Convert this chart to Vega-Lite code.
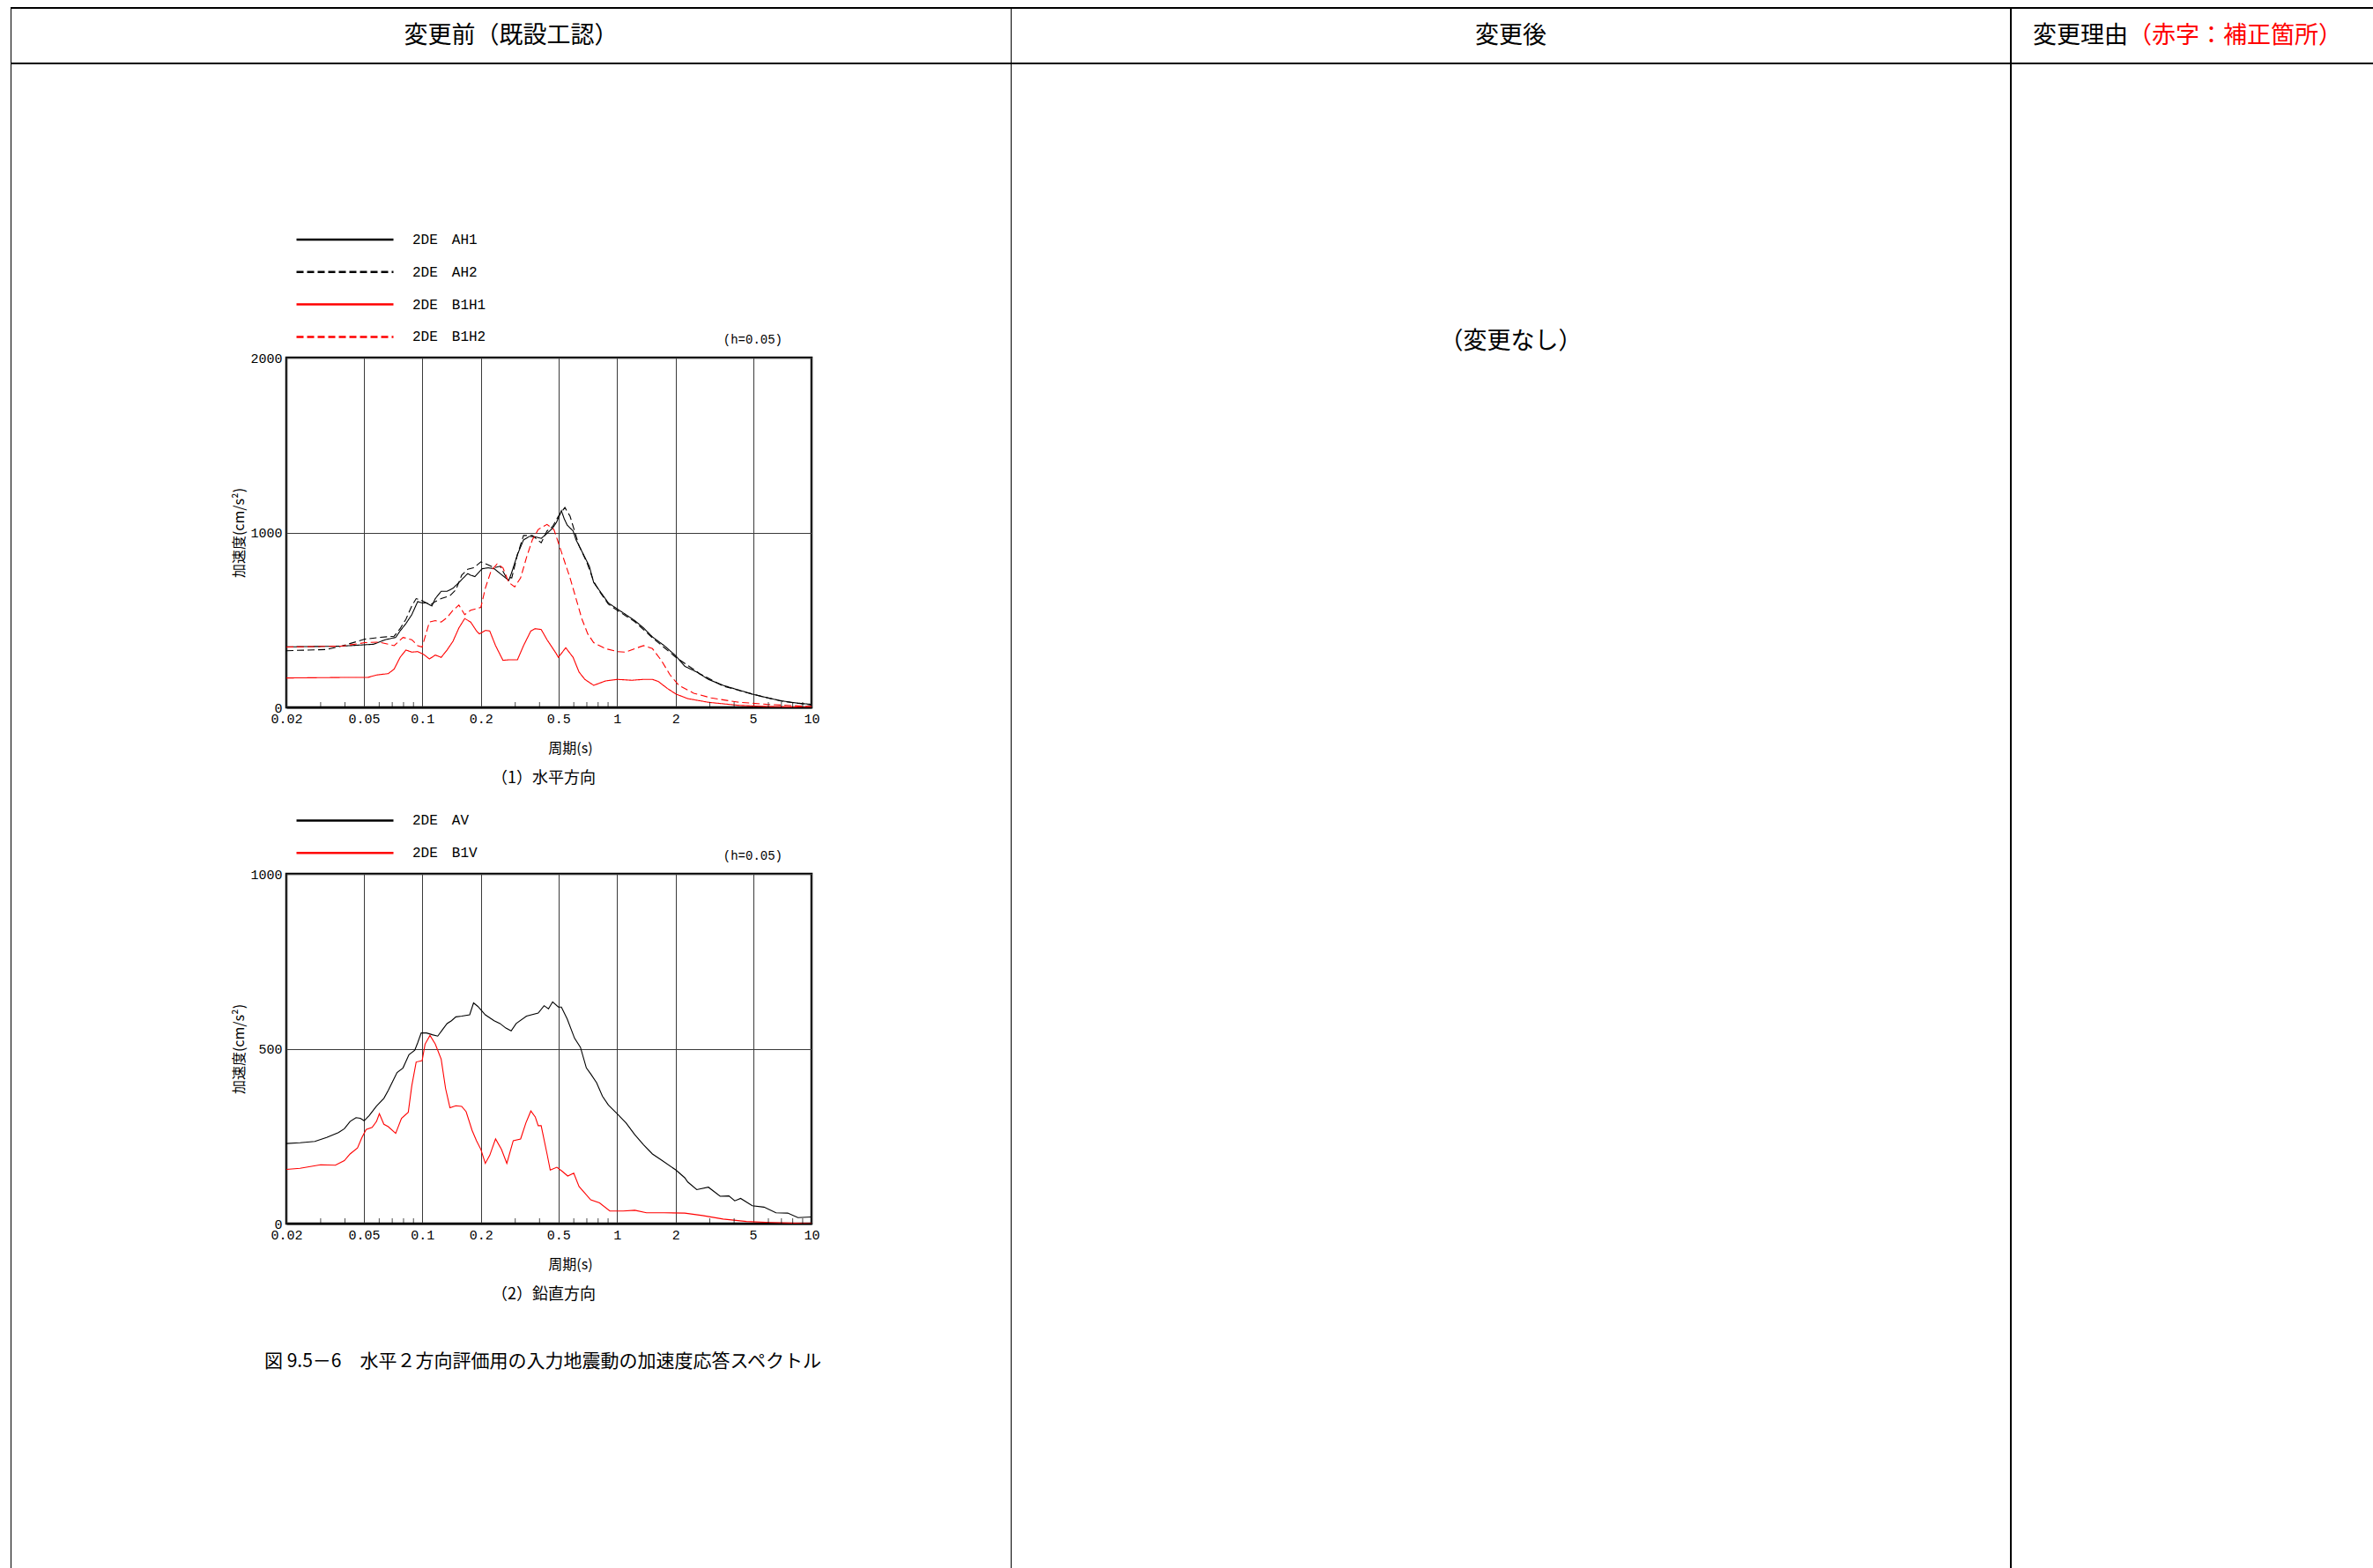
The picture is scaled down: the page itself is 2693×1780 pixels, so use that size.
{
  "$schema": "https://vega.github.io/schema/vega-lite/v6.json",
  "padding": {"left": 12, "top": 8, "right": 0, "bottom": 0},
  "background": "white",
  "config": {
    "view": {"stroke": null},
    "concat": {"spacing": 0},
    "font": "Noto Sans CJK JP",
    "title": {"fontWeight": "normal", "color": "black", "font": "Noto Sans CJK JP"},
    "axis": {"titleFontWeight": "normal", "titleFont": "Noto Sans CJK JP"},
    "text": {"color": "black"}
  },
  "resolve": {"scale": {"color": "independent", "strokeDash": "independent"}, "legend": {"color": "independent", "strokeDash": "independent"}},
  "datasets": {
    "horizontal": [
      {"series":"2DE　AH1","period":0.02,"accel":346},{"series":"2DE　AH1","period":0.0383,"accel":350},{"series":"2DE　AH1","period":0.0561,"accel":361},{"series":"2DE　AH1","period":0.0645,"accel":387},{"series":"2DE　AH1","period":0.0729,"accel":400},{"series":"2DE　AH1","period":0.0768,"accel":437},{"series":"2DE　AH1","period":0.0823,"accel":479},{"series":"2DE　AH1","period":0.0882,"accel":530},{"series":"2DE　AH1","period":0.0946,"accel":605},{"series":"2DE　AH1","period":0.0997,"accel":597},{"series":"2DE　AH1","period":0.105,"accel":597},{"series":"2DE　AH1","period":0.1118,"accel":580},{"series":"2DE　AH1","period":0.1165,"accel":622},{"series":"2DE　AH1","period":0.1249,"accel":664},{"series":"2DE　AH1","period":0.134,"accel":664},{"series":"2DE　AH1","period":0.1436,"accel":681},{"series":"2DE　AH1","period":0.154,"accel":714},{"series":"2DE　AH1","period":0.165,"accel":748},{"series":"2DE　AH1","period":0.171,"accel":765},{"series":"2DE　AH1","period":0.177,"accel":756},{"series":"2DE　AH1","period":0.186,"accel":748},{"series":"2DE　AH1","period":0.203,"accel":793},{"series":"2DE　AH1","period":0.218,"accel":798},{"series":"2DE　AH1","period":0.234,"accel":793},{"series":"2DE　AH1","period":0.251,"accel":765},{"series":"2DE　AH1","period":0.278,"accel":726},{"series":"2DE　AH1","period":0.288,"accel":773},{"series":"2DE　AH1","period":0.308,"accel":874},{"series":"2DE　AH1","period":0.331,"accel":958},{"series":"2DE　AH1","period":0.355,"accel":978},{"series":"2DE　AH1","period":0.38,"accel":975},{"series":"2DE　AH1","period":0.408,"accel":966},{"series":"2DE　AH1","period":0.437,"accel":995},{"series":"2DE　AH1","period":0.467,"accel":1025},{"series":"2DE　AH1","period":0.49,"accel":1060},{"series":"2DE　AH1","period":0.518,"accel":1125},{"series":"2DE　AH1","period":0.535,"accel":1080},{"series":"2DE　AH1","period":0.555,"accel":1042},{"series":"2DE　AH1","period":0.595,"accel":1009},{"series":"2DE　AH1","period":0.616,"accel":958},{"series":"2DE　AH1","period":0.661,"accel":891},{"series":"2DE　AH1","period":0.721,"accel":807},{"series":"2DE　AH1","period":0.759,"accel":714},{"series":"2DE　AH1","period":0.828,"accel":656},{"series":"2DE　AH1","period":0.903,"accel":597},{"series":"2DE　AH1","period":1.003,"accel":563},{"series":"2DE　AH1","period":1.112,"accel":530},{"series":"2DE　AH1","period":1.235,"accel":496},{"series":"2DE　AH1","period":1.37,"accel":454},{"series":"2DE　AH1","period":1.521,"accel":403},{"series":"2DE　AH1","period":1.749,"accel":353},{"series":"2DE　AH1","period":2.01,"accel":294},{"series":"2DE　AH1","period":2.23,"accel":235},{"series":"2DE　AH1","period":2.57,"accel":202},{"series":"2DE　AH1","period":2.95,"accel":160},{"series":"2DE　AH1","period":3.51,"accel":126},{"series":"2DE　AH1","period":4.17,"accel":101},{"series":"2DE　AH1","period":4.96,"accel":76},{"series":"2DE　AH1","period":5.9,"accel":55},{"series":"2DE　AH1","period":7.03,"accel":37},{"series":"2DE　AH1","period":8.36,"accel":25},{"series":"2DE　AH1","period":10,"accel":17},
      {"series":"2DE　AH2","period":0.02,"accel":324},{"series":"2DE　AH2","period":0.0322,"accel":331},{"series":"2DE　AH2","period":0.0383,"accel":350},{"series":"2DE　AH2","period":0.0506,"accel":390},{"series":"2DE　AH2","period":0.0601,"accel":400},{"series":"2DE　AH2","period":0.0716,"accel":407},{"series":"2DE　AH2","period":0.0768,"accel":450},{"series":"2DE　AH2","period":0.0823,"accel":504},{"series":"2DE　AH2","period":0.0882,"accel":580},{"series":"2DE　AH2","period":0.0929,"accel":622},{"series":"2DE　AH2","period":0.0979,"accel":614},{"series":"2DE　AH2","period":0.105,"accel":597},{"series":"2DE　AH2","period":0.1106,"accel":588},{"series":"2DE　AH2","period":0.1165,"accel":605},{"series":"2DE　AH2","period":0.1249,"accel":622},{"series":"2DE　AH2","period":0.1386,"accel":639},{"series":"2DE　AH2","period":0.1486,"accel":672},{"series":"2DE　AH2","period":0.1592,"accel":756},{"series":"2DE　AH2","period":0.171,"accel":790},{"series":"2DE　AH2","period":0.1832,"accel":798},{"series":"2DE　AH2","period":0.1998,"accel":832},{"series":"2DE　AH2","period":0.218,"accel":815},{"series":"2DE　AH2","period":0.234,"accel":798},{"series":"2DE　AH2","period":0.251,"accel":807},{"series":"2DE　AH2","period":0.2685,"accel":748},{"series":"2DE　AH2","period":0.288,"accel":740},{"series":"2DE　AH2","period":0.308,"accel":874},{"series":"2DE　AH2","period":0.331,"accel":983},{"series":"2DE　AH2","period":0.3674,"accel":983},{"series":"2DE　AH2","period":0.408,"accel":941},{"series":"2DE　AH2","period":0.437,"accel":1009},{"series":"2DE　AH2","period":0.467,"accel":1034},{"series":"2DE　AH2","period":0.5,"accel":1093},{"series":"2DE　AH2","period":0.54,"accel":1143},{"series":"2DE　AH2","period":0.574,"accel":1093},{"series":"2DE　AH2","period":0.605,"accel":1009},{"series":"2DE　AH2","period":0.638,"accel":925},{"series":"2DE　AH2","period":0.7,"accel":830},{"series":"2DE　AH2","period":0.759,"accel":720},{"series":"2DE　AH2","period":0.828,"accel":650},{"series":"2DE　AH2","period":0.903,"accel":590},{"series":"2DE　AH2","period":1.003,"accel":555},{"series":"2DE　AH2","period":1.235,"accel":490},{"series":"2DE　AH2","period":1.521,"accel":398},{"series":"2DE　AH2","period":2.01,"accel":286},{"series":"2DE　AH2","period":2.66,"accel":193},{"series":"2DE　AH2","period":3.51,"accel":122},{"series":"2DE　AH2","period":4.96,"accel":76},{"series":"2DE　AH2","period":7.03,"accel":35},{"series":"2DE　AH2","period":10,"accel":13},
      {"series":"2DE　B1H1","period":0.02,"accel":168},{"series":"2DE　B1H1","period":0.0383,"accel":171},{"series":"2DE　B1H1","period":0.0524,"accel":171},{"series":"2DE　B1H1","period":0.0581,"accel":185},{"series":"2DE　B1H1","period":0.0668,"accel":193},{"series":"2DE　B1H1","period":0.0716,"accel":219},{"series":"2DE　B1H1","period":0.0768,"accel":286},{"series":"2DE　B1H1","period":0.0823,"accel":328},{"series":"2DE　B1H1","period":0.0882,"accel":316},{"series":"2DE　B1H1","period":0.0946,"accel":319},{"series":"2DE　B1H1","period":0.1014,"accel":303},{"series":"2DE　B1H1","period":0.1087,"accel":277},{"series":"2DE　B1H1","period":0.1165,"accel":299},{"series":"2DE　B1H1","period":0.1249,"accel":286},{"series":"2DE　B1H1","period":0.1339,"accel":328},{"series":"2DE　B1H1","period":0.1436,"accel":378},{"series":"2DE　B1H1","period":0.154,"accel":454},{"series":"2DE　B1H1","period":0.165,"accel":508},{"series":"2DE　B1H1","period":0.177,"accel":488},{"series":"2DE　B1H1","period":0.1897,"accel":437},{"series":"2DE　B1H1","period":0.1963,"accel":420},{"series":"2DE　B1H1","period":0.2105,"accel":440},{"series":"2DE　B1H1","period":0.2218,"accel":437},{"series":"2DE　B1H1","period":0.2377,"accel":353},{"series":"2DE　B1H1","period":0.2594,"accel":269},{"series":"2DE　B1H1","period":0.278,"accel":272},{"series":"2DE　B1H1","period":0.308,"accel":272},{"series":"2DE　B1H1","period":0.331,"accel":353},{"series":"2DE　B1H1","period":0.3609,"accel":437},{"series":"2DE　B1H1","period":0.38,"accel":450},{"series":"2DE　B1H1","period":0.408,"accel":445},{"series":"2DE　B1H1","period":0.437,"accel":387},{"series":"2DE　B1H1","period":0.485,"accel":311},{"series":"2DE　B1H1","period":0.5,"accel":286},{"series":"2DE　B1H1","period":0.5454,"accel":341},{"series":"2DE　B1H1","period":0.595,"accel":286},{"series":"2DE　B1H1","period":0.6383,"accel":202},{"series":"2DE　B1H1","period":0.6836,"accel":160},{"series":"2DE　B1H1","period":0.759,"accel":126},{"series":"2DE　B1H1","period":0.8724,"accel":151},{"series":"2DE　B1H1","period":1.003,"accel":160},{"series":"2DE　B1H1","period":1.193,"accel":155},{"series":"2DE　B1H1","period":1.37,"accel":160},{"series":"2DE　B1H1","period":1.521,"accel":160},{"series":"2DE　B1H1","period":1.632,"accel":148},{"series":"2DE　B1H1","period":1.811,"accel":109},{"series":"2DE　B1H1","period":2.01,"accel":76},{"series":"2DE　B1H1","period":2.31,"accel":50},{"series":"2DE　B1H1","period":2.95,"accel":29},{"series":"2DE　B1H1","period":4.17,"accel":12},{"series":"2DE　B1H1","period":5.9,"accel":5},{"series":"2DE　B1H1","period":10,"accel":0},
      {"series":"2DE　B1H2","period":0.02,"accel":345},{"series":"2DE　B1H2","period":0.0383,"accel":350},{"series":"2DE　B1H2","period":0.0506,"accel":370},{"series":"2DE　B1H2","period":0.0601,"accel":373},{"series":"2DE　B1H2","period":0.0668,"accel":361},{"series":"2DE　B1H2","period":0.0716,"accel":353},{"series":"2DE　B1H2","period":0.0795,"accel":400},{"series":"2DE　B1H2","period":0.0882,"accel":387},{"series":"2DE　B1H2","period":0.0946,"accel":353},{"series":"2DE　B1H2","period":0.0997,"accel":345},{"series":"2DE　B1H2","period":0.1087,"accel":488},{"series":"2DE　B1H2","period":0.1165,"accel":496},{"series":"2DE　B1H2","period":0.1249,"accel":488},{"series":"2DE　B1H2","period":0.1339,"accel":513},{"series":"2DE　B1H2","period":0.1436,"accel":555},{"series":"2DE　B1H2","period":0.154,"accel":585},{"series":"2DE　B1H2","period":0.165,"accel":530},{"series":"2DE　B1H2","period":0.177,"accel":555},{"series":"2DE　B1H2","period":0.1998,"accel":572},{"series":"2DE　B1H2","period":0.2105,"accel":681},{"series":"2DE　B1H2","period":0.2256,"accel":782},{"series":"2DE　B1H2","period":0.2421,"accel":820},{"series":"2DE　B1H2","period":0.2594,"accel":798},{"series":"2DE　B1H2","period":0.278,"accel":714},{"series":"2DE　B1H2","period":0.298,"accel":689},{"series":"2DE　B1H2","period":0.3197,"accel":740},{"series":"2DE　B1H2","period":0.3427,"accel":857},{"series":"2DE　B1H2","period":0.3674,"accel":958},{"series":"2DE　B1H2","period":0.3937,"accel":1017},{"series":"2DE　B1H2","period":0.437,"accel":1046},{"series":"2DE　B1H2","period":0.4741,"accel":1017},{"series":"2DE　B1H2","period":0.5,"accel":941},{"series":"2DE　B1H2","period":0.5357,"accel":840},{"series":"2DE　B1H2","period":0.574,"accel":740},{"series":"2DE　B1H2","period":0.616,"accel":622},{"series":"2DE　B1H2","period":0.661,"accel":504},{"series":"2DE　B1H2","period":0.708,"accel":420},{"series":"2DE　B1H2","period":0.759,"accel":370},{"series":"2DE　B1H2","period":0.872,"accel":336},{"series":"2DE　B1H2","period":1.003,"accel":319},{"series":"2DE　B1H2","period":1.112,"accel":316},{"series":"2DE　B1H2","period":1.235,"accel":336},{"series":"2DE　B1H2","period":1.37,"accel":353},{"series":"2DE　B1H2","period":1.521,"accel":336},{"series":"2DE　B1H2","period":1.689,"accel":269},{"series":"2DE　B1H2","period":1.875,"accel":185},{"series":"2DE　B1H2","period":2.08,"accel":126},{"series":"2DE　B1H2","period":2.48,"accel":81},{"series":"2DE　B1H2","period":3.05,"accel":54},{"series":"2DE　B1H2","period":4.17,"accel":30},{"series":"2DE　B1H2","period":5.9,"accel":17},{"series":"2DE　B1H2","period":10,"accel":5}
    ],
    "vertical": [
      {"series":"2DE　AV","period":0.02,"accel":229},{"series":"2DE　AV","period":0.0235,"accel":231},{"series":"2DE　AV","period":0.028,"accel":235},{"series":"2DE　AV","period":0.0322,"accel":246},{"series":"2DE　AV","period":0.037,"accel":260},{"series":"2DE　AV","period":0.0397,"accel":271},{"series":"2DE　AV","period":0.0425,"accel":292},{"series":"2DE　AV","period":0.0456,"accel":303},{"series":"2DE　AV","period":0.048,"accel":301},{"series":"2DE　AV","period":0.0502,"accel":294},{"series":"2DE　AV","period":0.0533,"accel":309},{"series":"2DE　AV","period":0.0581,"accel":336},{"series":"2DE　AV","period":0.0634,"accel":358},{"series":"2DE　AV","period":0.0668,"accel":381},{"series":"2DE　AV","period":0.0704,"accel":407},{"series":"2DE　AV","period":0.0741,"accel":432},{"series":"2DE　AV","period":0.0795,"accel":445},{"series":"2DE　AV","period":0.0853,"accel":483},{"series":"2DE　AV","period":0.0914,"accel":496},{"series":"2DE　AV","period":0.0946,"accel":517},{"series":"2DE　AV","period":0.0986,"accel":545},{"series":"2DE　AV","period":0.105,"accel":545},{"series":"2DE　AV","period":0.1125,"accel":540},{"series":"2DE　AV","period":0.1199,"accel":536},{"series":"2DE　AV","period":0.1271,"accel":555},{"series":"2DE　AV","period":0.1339,"accel":572},{"series":"2DE　AV","period":0.1411,"accel":580},{"series":"2DE　AV","period":0.1486,"accel":591},{"series":"2DE　AV","period":0.1592,"accel":593},{"series":"2DE　AV","period":0.175,"accel":597},{"series":"2DE　AV","period":0.1832,"accel":631},{"series":"2DE　AV","period":0.1928,"accel":621},{"series":"2DE　AV","period":0.2105,"accel":597},{"series":"2DE　AV","period":0.2337,"accel":580},{"series":"2DE　AV","period":0.2505,"accel":572},{"series":"2DE　AV","period":0.2685,"accel":559},{"series":"2DE　AV","period":0.2859,"accel":551},{"series":"2DE　AV","period":0.3034,"accel":572},{"series":"2DE　AV","period":0.3427,"accel":593},{"series":"2DE　AV","period":0.3937,"accel":602},{"series":"2DE　AV","period":0.4222,"accel":623},{"series":"2DE　AV","period":0.4447,"accel":614},{"series":"2DE　AV","period":0.467,"accel":634},{"series":"2DE　AV","period":0.5,"accel":619},{"series":"2DE　AV","period":0.518,"accel":619},{"series":"2DE　AV","period":0.555,"accel":585},{"series":"2DE　AV","period":0.6053,"accel":530},{"series":"2DE　AV","period":0.649,"accel":504},{"series":"2DE　AV","period":0.6961,"accel":445},{"series":"2DE　AV","period":0.733,"accel":428},{"series":"2DE　AV","period":0.7852,"accel":403},{"series":"2DE　AV","period":0.8424,"accel":364},{"series":"2DE　AV","period":0.903,"accel":339},{"series":"2DE　AV","period":1.003,"accel":314},{"series":"2DE　AV","period":1.112,"accel":288},{"series":"2DE　AV","period":1.235,"accel":254},{"series":"2DE　AV","period":1.37,"accel":225},{"series":"2DE　AV","period":1.521,"accel":199},{"series":"2DE　AV","period":1.689,"accel":182},{"series":"2DE　AV","period":2.01,"accel":153},{"series":"2DE　AV","period":2.23,"accel":131},{"series":"2DE　AV","period":2.31,"accel":119},{"series":"2DE　AV","period":2.57,"accel":97},{"series":"2DE　AV","period":2.95,"accel":104},{"series":"2DE　AV","period":3.39,"accel":78},{"series":"2DE　AV","period":3.76,"accel":79},{"series":"2DE　AV","period":4.03,"accel":65},{"series":"2DE　AV","period":4.32,"accel":72},{"series":"2DE　AV","period":4.96,"accel":51},{"series":"2DE　AV","period":5.7,"accel":47},{"series":"2DE　AV","period":6.56,"accel":31},{"series":"2DE　AV","period":7.54,"accel":30},{"series":"2DE　AV","period":8.51,"accel":17},{"series":"2DE　AV","period":10,"accel":19},
      {"series":"2DE　B1V","period":0.02,"accel":155},{"series":"2DE　B1V","period":0.0235,"accel":158},{"series":"2DE　B1V","period":0.03,"accel":168},{"series":"2DE　B1V","period":0.0357,"accel":167},{"series":"2DE　B1V","period":0.0397,"accel":180},{"series":"2DE　B1V","period":0.0425,"accel":199},{"series":"2DE　B1V","period":0.0464,"accel":216},{"series":"2DE　B1V","period":0.0489,"accel":246},{"series":"2DE　B1V","period":0.0514,"accel":269},{"series":"2DE　B1V","period":0.0552,"accel":275},{"series":"2DE　B1V","period":0.0581,"accel":292},{"series":"2DE　B1V","period":0.0601,"accel":314},{"series":"2DE　B1V","period":0.0634,"accel":284},{"series":"2DE　B1V","period":0.0668,"accel":277},{"series":"2DE　B1V","period":0.0729,"accel":258},{"series":"2DE　B1V","period":0.0781,"accel":301},{"series":"2DE　B1V","period":0.0846,"accel":318},{"series":"2DE　B1V","period":0.0882,"accel":394},{"series":"2DE　B1V","period":0.0929,"accel":462},{"series":"2DE　B1V","period":0.0997,"accel":466},{"series":"2DE　B1V","period":0.1032,"accel":513},{"series":"2DE　B1V","period":0.1094,"accel":538},{"series":"2DE　B1V","period":0.1165,"accel":513},{"series":"2DE　B1V","period":0.1249,"accel":470},{"series":"2DE　B1V","period":0.1316,"accel":386},{"series":"2DE　B1V","period":0.1386,"accel":331},{"series":"2DE　B1V","period":0.1486,"accel":337},{"series":"2DE　B1V","period":0.1592,"accel":335},{"series":"2DE　B1V","period":0.1678,"accel":320},{"series":"2DE　B1V","period":0.1799,"accel":267},{"series":"2DE　B1V","period":0.1897,"accel":237},{"series":"2DE　B1V","period":0.1998,"accel":212},{"series":"2DE　B1V","period":0.2105,"accel":172},{"series":"2DE　B1V","period":0.2218,"accel":195},{"series":"2DE　B1V","period":0.2377,"accel":242},{"series":"2DE　B1V","period":0.2549,"accel":212},{"series":"2DE　B1V","period":0.2716,"accel":172},{"series":"2DE　B1V","period":0.293,"accel":237},{"series":"2DE　B1V","period":0.3197,"accel":242},{"series":"2DE　B1V","period":0.3405,"accel":288},{"series":"2DE　B1V","period":0.3609,"accel":322},{"series":"2DE　B1V","period":0.3802,"accel":305},{"series":"2DE　B1V","period":0.3937,"accel":280},{"series":"2DE　B1V","period":0.4077,"accel":280},{"series":"2DE　B1V","period":0.4372,"accel":199},{"series":"2DE　B1V","period":0.454,"accel":153},{"series":"2DE　B1V","period":0.4913,"accel":161},{"series":"2DE　B1V","period":0.5269,"accel":148},{"series":"2DE　B1V","period":0.5583,"accel":136},{"series":"2DE　B1V","period":0.5996,"accel":144},{"series":"2DE　B1V","period":0.6383,"accel":106},{"series":"2DE　B1V","period":0.733,"accel":68},{"series":"2DE　B1V","period":0.8137,"accel":59},{"series":"2DE　B1V","period":0.919,"accel":36},{"series":"2DE　B1V","period":1.075,"accel":36},{"series":"2DE　B1V","period":1.235,"accel":38},{"series":"2DE　B1V","period":1.418,"accel":31},{"series":"2DE　B1V","period":1.749,"accel":31},{"series":"2DE　B1V","period":2.23,"accel":30},{"series":"2DE　B1V","period":2.75,"accel":23},{"series":"2DE　B1V","period":3.51,"accel":13},{"series":"2DE　B1V","period":4.63,"accel":6},{"series":"2DE　B1V","period":6.12,"accel":3},{"series":"2DE　B1V","period":10,"accel":0}
    ],
    "minorTicks": [
      {"period":0.03},{"period":0.04},{"period":0.06},{"period":0.07},{"period":0.08},{"period":0.09},
      {"period":0.3},{"period":0.4},{"period":0.6},{"period":0.7},{"period":0.8},{"period":0.9},
      {"period":3},{"period":4},{"period":6},{"period":7},{"period":8},{"period":9}
    ]
  },
  "vconcat": [
    {"width": 2681, "height": 2, "view": {"fill": "black", "stroke": null}, "data": {"values": [{}]}, "mark": {"type": "text", "text": "", "fontSize": 0}},
    {
      "hconcat": [
        {"width": 1, "height": 61, "view": {"fill": "black", "stroke": null}, "data": {"values": [{}]}, "mark": {"type": "text", "text": "", "fontSize": 0}},
        {"width": 1134, "height": 61, "data": {"values": [{"label": "変更前（既設工認）"}]}, "mark": {"type": "text", "fontSize": 27, "font": "Noto Sans CJK JP", "color": "black"}, "encoding": {"text": {"field": "label"}}},
        {"width": 1, "height": 61, "view": {"fill": "black", "stroke": null}, "data": {"values": [{}]}, "mark": {"type": "text", "text": "", "fontSize": 0}},
        {"width": 1133, "height": 61, "data": {"values": [{"label": "変更後"}]}, "mark": {"type": "text", "fontSize": 27, "font": "Noto Sans CJK JP", "color": "black"}, "encoding": {"text": {"field": "label"}}},
        {"width": 2, "height": 61, "view": {"fill": "black", "stroke": null}, "data": {"values": [{}]}, "mark": {"type": "text", "text": "", "fontSize": 0}},
        {"width": 24, "height": 61, "data": {"values": [{}]}, "mark": {"type": "text", "text": "", "fontSize": 0}},
        {"width": 108, "height": 61, "data": {"values": [{"label": "変更理由"}]}, "mark": {"type": "text", "fontSize": 27, "font": "Noto Sans CJK JP", "color": "black"}, "encoding": {"text": {"field": "label"}}},
        {"width": 243, "height": 61, "data": {"values": [{"label": "（赤字：補正箇所）"}]}, "mark": {"type": "text", "fontSize": 27, "font": "Noto Sans CJK JP", "color": "#ff0000"}, "encoding": {"text": {"field": "label"}}},
        {"width": 35, "height": 61, "data": {"values": [{}]}, "mark": {"type": "text", "text": "", "fontSize": 0}}
      ],
      "spacing": 0
    },
    {"width": 2681, "height": 2, "view": {"fill": "black", "stroke": null}, "data": {"values": [{}]}, "mark": {"type": "text", "text": "", "fontSize": 0}},
    {
      "hconcat": [
        {"width": 1, "height": 1707, "view": {"fill": "black", "stroke": null}, "data": {"values": [{}]}, "mark": {"type": "text", "text": "", "fontSize": 0}},
        {
          "vconcat": [
            {"width": 1134, "height": 189, "data": {"values": [{}]}, "mark": {"type": "text", "text": "", "fontSize": 0}},
            {
              "hconcat": [
                {"width": 249, "height": 1, "data": {"values": [{}]}, "mark": {"type": "text", "text": "", "fontSize": 0}},
                {
                  "vconcat": [
                    {
                      "width": 596, "height": 397,
                      "view": {"stroke": "black", "strokeWidth": 2.5},
                      "title": {"text": "（1）水平方向", "orient": "bottom", "anchor": "middle", "frame": "group", "offset": 18, "fontSize": 18, "dx": -6},
                      "layer": [
                        {
                          "data": {"name": "horizontal"},
                          "mark": {"type": "line", "strokeWidth": 1.1, "clip": true},
                          "encoding": {
                            "x": {"field": "period", "type": "quantitative", "scale": {"type": "log", "domain": [0.02, 10], "nice": false},
                              "axis": {"values": [0.02, 0.05, 0.1, 0.2, 0.5, 1, 2, 5, 10], "format": "~g", "title": "周期(s)", "grid": true, "gridColor": "#3a3a3a", "gridWidth": 1, "ticks": false, "tickSize": 0, "domain": true, "domainColor": "black", "domainWidth": 2, "labelFont": "Liberation Mono", "labelFontSize": 15, "labelColor": "black", "labelPadding": 5, "labelFlush": false, "labelOverlap": false, "titleFontSize": 16, "titlePadding": 18, "titleX": 322, "titleColor": "black"}},
                            "y": {"field": "accel", "type": "quantitative", "scale": {"domain": [0, 2000], "nice": false},
                              "axis": {"values": [0, 1000, 2000], "format": "d", "title": "加速度(cm/s²)", "grid": true, "gridColor": "#3a3a3a", "gridWidth": 1, "ticks": false, "tickSize": 0, "domain": false, "labelFont": "Liberation Mono", "labelFontSize": 15, "labelColor": "black", "labelPadding": 5, "labelFlush": false, "labelOverlap": false, "titleFontSize": 16, "titlePadding": 4, "titleColor": "black"}},
                            "color": {"field": "series", "type": "nominal",
                              "scale": {"domain": ["2DE　AH1", "2DE　AH2", "2DE　B1H1", "2DE　B1H2"], "range": ["#000000", "#000000", "#ff0000", "#ff0000"]},
                              "legend": {"orient": "none", "legendX": 10, "legendY": -142, "title": null, "direction": "vertical", "symbolType": "stroke", "symbolSize": 12100, "symbolStrokeWidth": 2.5, "clipHeight": 16, "rowPadding": 20.8, "padding": 0, "labelFont": "Liberation Mono", "labelFontSize": 16, "labelColor": "black", "labelOffset": 20, "labelLimit": 400}},
                            "strokeDash": {"field": "series", "type": "nominal",
                              "scale": {"domain": ["2DE　AH1", "2DE　AH2", "2DE　B1H1", "2DE　B1H2"], "range": [[1, 0], [8, 4], [1, 0], [8, 4]]},
                              "legend": {"orient": "none", "legendX": 10, "legendY": -142, "title": null, "direction": "vertical", "symbolType": "stroke", "symbolSize": 12100, "symbolStrokeWidth": 2.5, "clipHeight": 16, "rowPadding": 20.8, "padding": 0, "labelFont": "Liberation Mono", "labelFontSize": 16, "labelColor": "black", "labelOffset": 20, "labelLimit": 400}}
                          }
                        },
                        {
                          "data": {"name": "minorTicks"},
                          "mark": {"type": "tick", "orient": "vertical", "size": 6, "thickness": 1, "yOffset": -3, "color": "black"},
                          "encoding": {"x": {"field": "period", "type": "quantitative"}, "y": {"datum": 0}}
                        },
                        {
                          "data": {"values": [{"note": "(h=0.05)"}]},
                          "mark": {"type": "text", "align": "right", "baseline": "middle", "dx": -33, "dy": -20, "font": "Liberation Mono", "fontSize": 14, "color": "black"},
                          "encoding": {"x": {"datum": 10}, "y": {"datum": 2000}, "text": {"field": "note"}}
                        }
                      ]
                    },
                    {"width": 10, "height": 27, "data": {"values": [{}]}, "mark": {"type": "text", "text": "", "fontSize": 0}},
                    {
                      "width": 596, "height": 397,
                      "view": {"stroke": "black", "strokeWidth": 2.5},
                      "title": {"text": "（2）鉛直方向", "orient": "bottom", "anchor": "middle", "frame": "group", "offset": 18, "fontSize": 18, "dx": -6},
                      "layer": [
                        {
                          "data": {"name": "vertical"},
                          "mark": {"type": "line", "strokeWidth": 1.1, "clip": true},
                          "encoding": {
                            "x": {"field": "period", "type": "quantitative", "scale": {"type": "log", "domain": [0.02, 10], "nice": false},
                              "axis": {"values": [0.02, 0.05, 0.1, 0.2, 0.5, 1, 2, 5, 10], "format": "~g", "title": "周期(s)", "grid": true, "gridColor": "#3a3a3a", "gridWidth": 1, "ticks": false, "tickSize": 0, "domain": true, "domainColor": "black", "domainWidth": 2, "labelFont": "Liberation Mono", "labelFontSize": 15, "labelColor": "black", "labelPadding": 5, "labelFlush": false, "labelOverlap": false, "titleFontSize": 16, "titlePadding": 18, "titleX": 322, "titleColor": "black"}},
                            "y": {"field": "accel", "type": "quantitative", "scale": {"domain": [0, 1000], "nice": false},
                              "axis": {"values": [0, 500, 1000], "format": "d", "title": "加速度(cm/s²)", "grid": true, "gridColor": "#3a3a3a", "gridWidth": 1, "ticks": false, "tickSize": 0, "domain": false, "labelFont": "Liberation Mono", "labelFontSize": 15, "labelColor": "black", "labelPadding": 5, "labelFlush": false, "labelOverlap": false, "titleFontSize": 16, "titlePadding": 4, "titleColor": "black"}},
                            "color": {"field": "series", "type": "nominal",
                              "scale": {"domain": ["2DE　AV", "2DE　B1V"], "range": ["#000000", "#ff0000"]},
                              "legend": {"orient": "none", "legendX": 10, "legendY": -68.6, "title": null, "direction": "vertical", "symbolType": "stroke", "symbolSize": 12100, "symbolStrokeWidth": 2.5, "clipHeight": 16, "rowPadding": 20.8, "padding": 0, "labelFont": "Liberation Mono", "labelFontSize": 16, "labelColor": "black", "labelOffset": 20, "labelLimit": 400}}
                          }
                        },
                        {
                          "data": {"name": "minorTicks"},
                          "mark": {"type": "tick", "orient": "vertical", "size": 6, "thickness": 1, "yOffset": -3, "color": "black"},
                          "encoding": {"x": {"field": "period", "type": "quantitative"}, "y": {"datum": 0}}
                        },
                        {
                          "data": {"values": [{"note": "(h=0.05)"}]},
                          "mark": {"type": "text", "align": "right", "baseline": "middle", "dx": -33, "dy": -20, "font": "Liberation Mono", "fontSize": 14, "color": "black"},
                          "encoding": {"x": {"datum": 10}, "y": {"datum": 1000}, "text": {"field": "note"}}
                        }
                      ]
                    },
                    {"width": 582, "height": 130, "data": {"values": [{"label": "図 9.5－6　水平２方向評価用の入力地震動の加速度応答スペクトル"}]}, "mark": {"type": "text", "fontSize": 21, "font": "Noto Sans CJK JP", "color": "black"}, "encoding": {"text": {"field": "label"}}}
                  ],
                  "spacing": 0,
                  "resolve": {"scale": {"color": "independent", "strokeDash": "independent"}, "legend": {"color": "independent", "strokeDash": "independent"}}
                }
              ],
              "spacing": 0,
              "resolve": {"scale": {"color": "independent", "strokeDash": "independent"}, "legend": {"color": "independent", "strokeDash": "independent"}}
            }
          ],
          "spacing": 0,
          "resolve": {"scale": {"color": "independent", "strokeDash": "independent"}, "legend": {"color": "independent", "strokeDash": "independent"}}
        },
        {"width": 1, "height": 1707, "view": {"fill": "black", "stroke": null}, "data": {"values": [{}]}, "mark": {"type": "text", "text": "", "fontSize": 0}},
        {
          "vconcat": [
            {"width": 1133, "height": 630, "data": {"values": [{"label": "（変更なし）"}]}, "mark": {"type": "text", "fontSize": 27, "font": "Noto Sans CJK JP", "color": "black"}, "encoding": {"text": {"field": "label"}}},
            {"width": 1133, "height": 1077, "data": {"values": [{}]}, "mark": {"type": "text", "text": "", "fontSize": 0}}
          ],
          "spacing": 0
        },
        {"width": 2, "height": 1707, "view": {"fill": "black", "stroke": null}, "data": {"values": [{}]}, "mark": {"type": "text", "text": "", "fontSize": 0}},
        {"width": 410, "height": 1707, "data": {"values": [{}]}, "mark": {"type": "text", "text": "", "fontSize": 0}}
      ],
      "spacing": 0,
      "resolve": {"scale": {"color": "independent", "strokeDash": "independent"}, "legend": {"color": "independent", "strokeDash": "independent"}}
    }
  ],
  "spacing": 0
}
